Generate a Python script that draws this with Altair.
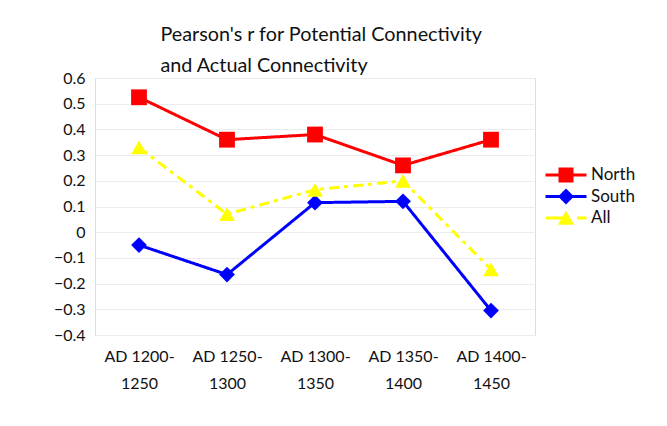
import altair as alt
import pandas as pd

periods = ["AD 1200-1250", "AD 1250-1300", "AD 1300-1350", "AD 1350-1400", "AD 1400-1450"]
north = [0.525, 0.36, 0.38, 0.26, 0.36]
south = [-0.05, -0.165, 0.115, 0.12, -0.305]
all_ = [0.33, 0.07, 0.165, 0.20, -0.145]
series = ["North", "South", "All"]
colors = ["#FF0000", "#0000FF", "#FFFF00"]
shapes = ["square", "diamond", "triangle-up"]
dashes = [[1, 0], [1, 0], [10, 5, 4, 5]]
y_ticks = [-0.4, -0.3, -0.2, -0.1, 0, 0.1, 0.2, 0.3, 0.4, 0.5, 0.6]

# legend glyphs: a line through the marker (path units are 10px at symbolSize 400)
line_solid = "M-2.05,-0.15H2.05V0.15H-2.05Z"
line_dashed = "M-2.05,-0.15H-0.3V0.15H-2.05Z M1.1,-0.15H2.05V0.15H1.1Z"
legend_paths = [
    line_solid + " M-0.75,-0.75H0.75V0.75H-0.75Z",
    line_solid + " M0,-0.8L0.8,0L0,0.8L-0.8,0Z",
    line_dashed + " M0,-0.72L0.82,0.68L-0.82,0.68Z",
]

rows = []
for name, vals in zip(series, [north, south, all_]):
    for p, v in zip(periods, vals):
        rows.append({"period": p, "series": name, "r": v})
df = pd.DataFrame(rows)

FONT = "Lato"

x = alt.X("period:N", sort=periods, title=None,
          scale=alt.Scale(type="point", padding=0.5),
          axis=alt.Axis(labelAngle=0, domain=False, ticks=False, grid=False,
                        labelExpr="[slice(datum.label,0,8), slice(datum.label,8)]",
                        labelFont=FONT, labelFontSize=16, labelColor="#111",
                        labelLineHeight=27, labelPadding=13))
y = alt.Y("r:Q", title=None,
          scale=alt.Scale(domain=[-0.4, 0.6], nice=False, zero=False),
          axis=alt.Axis(values=y_ticks, labelExpr="datum.value == 0 ? '0' : format(datum.value, '.1f')",
                        domain=False, ticks=False, grid=True, gridColor="#ececec",
                        labelFont=FONT, labelFontSize=16, labelColor="#111", labelPadding=10))

legend_opts = dict(title=None, orient="none", legendX=461, legendY=87,
                   labelFont=FONT, labelFontSize=17, labelColor="#111",
                   symbolSize=400, symbolStrokeWidth=0, rowPadding=3.5,
                   labelOffset=15, symbolOpacity=1)

color = alt.Color("series:N", scale=alt.Scale(domain=series, range=colors),
                  legend=alt.Legend(**legend_opts))

base = alt.Chart(df)
lines = base.mark_line(strokeWidth=3).encode(
    x=x, y=y, color=color,
    strokeDash=alt.StrokeDash("series:N", scale=alt.Scale(domain=series, range=dashes), legend=None),
)
point_layers = []
for name, shp in zip(series, shapes):
    point_layers.append(
        base.transform_filter(alt.datum.series == name)
        .mark_point(filled=True, opacity=1, size=250, shape=shp)
        .encode(x=x, y=y, color=color)
    )

legend_layer = base.transform_filter("false").mark_point(filled=True, opacity=1).encode(
    x=x, y=y, color=color,
    shape=alt.Shape("series:N", scale=alt.Scale(domain=series, range=legend_paths),
                    legend=alt.Legend(**legend_opts)),
)

chart = alt.layer(lines, *point_layers, legend_layer).properties(
    width=440, height=257,
    padding={"left": 45, "top": 17, "right": 10, "bottom": 10},
    title=alt.TitleParams(["Pearson's r for Potential Connectivity", "and Actual Connectivity"],
                          anchor="start", dx=107, font=FONT, fontSize=19.8, fontWeight="normal",
                          color="#111", lineHeight=31, offset=-6),
).configure_view(stroke=None).configure(background="white")

chart.save("out.html", embed_options={"renderer": "svg", "actions": False})
